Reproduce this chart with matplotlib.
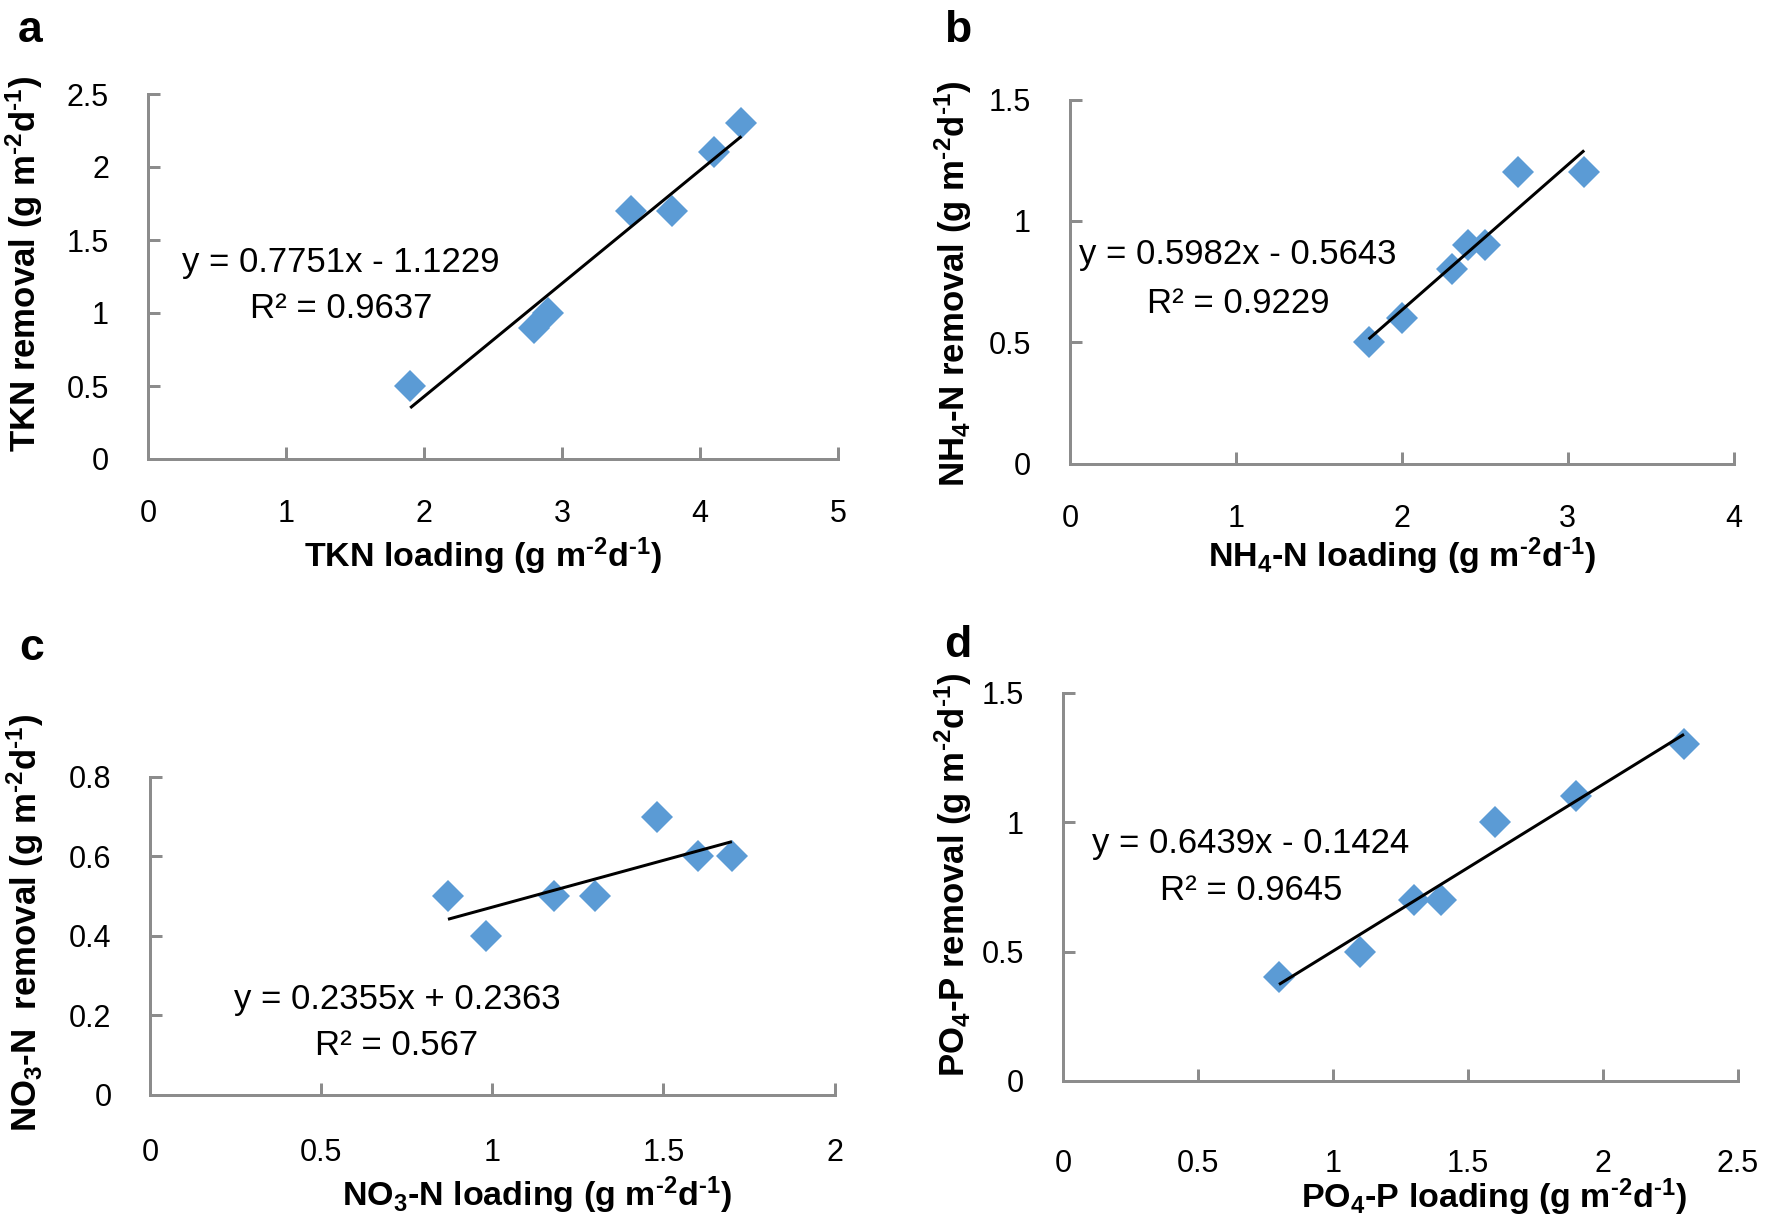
import numpy as np
import matplotlib
matplotlib.use('Agg')
import matplotlib.pyplot as plt
from matplotlib.ticker import FuncFormatter

plt.rcParams['font.family'] = ['Liberation Sans', 'DejaVu Sans']
plt.rcParams['mathtext.default'] = 'regular'

W, H = 1773, 1224

# ---------------- data ----------------
tkn_load = [1.9, 2.8, 2.9, 3.5, 3.8, 4.1, 4.3]
tkn_rem = [0.5, 0.9, 1.0, 1.7, 1.7, 2.1, 2.3]

nh4_load = [1.8, 2.0, 2.3, 2.4, 2.5, 2.7, 3.1]
nh4_rem = [0.5, 0.6, 0.8, 0.9, 0.9, 1.2, 1.2]

no3_load = [0.87, 0.98, 1.18, 1.3, 1.48, 1.6, 1.7]
no3_rem = [0.5, 0.4, 0.5, 0.5, 0.7, 0.6, 0.6]

po4_load = [0.8, 1.1, 1.3, 1.4, 1.6, 1.9, 2.3]
po4_rem = [0.4, 0.5, 0.7, 0.7, 1.0, 1.1, 1.3]

xticks_a = [0, 1, 2, 3, 4, 5]
yticks_a = [0, 0.5, 1, 1.5, 2, 2.5]
xticks_b = [0, 1, 2, 3, 4]
yticks_b = [0, 0.5, 1, 1.5]
xticks_c = [0, 0.5, 1, 1.5, 2]
yticks_c = [0, 0.2, 0.4, 0.6, 0.8]
xticks_d = [0, 0.5, 1, 1.5, 2, 2.5]
yticks_d = [0, 0.5, 1, 1.5]

eq_a = ["y = 0.7751x - 1.1229", "R² = 0.9637"]
eq_b = ["y = 0.5982x - 0.5643", "R² = 0.9229"]
eq_c = ["y = 0.2355x + 0.2363", "R² = 0.567"]
eq_d = ["y = 0.6439x - 0.1424", "R² = 0.9645"]

UNITS = "(g m$^{\u20102}$d$^{\u20101}$)"
xlab_a = "TKN loading " + UNITS
ylab_a = "TKN removal " + UNITS
xlab_b = "NH$_{4}$-N loading " + UNITS
ylab_b = "NH$_{4}$-N removal " + UNITS
xlab_c = "NO$_{3}$-N loading " + UNITS
ylab_c = "NO$_{3}$-N  removal " + UNITS
xlab_d = "PO$_{4}$-P loading " + UNITS
ylab_d = "PO$_{4}$-P removal " + UNITS

letters = ["a", "b", "c", "d"]

# ---------------- style ----------------
BLUE = '#5B9BD5'
GREY = '#8C8C8C'
PT = 72 / 100.0  # points per pixel at dpi 100

fig = plt.figure(figsize=(W / 100, H / 100), dpi=100)


def fx(px):
    return px / W


def fy(py):
    return 1 - py / H


def add_axes_px(l, t, r, b):
    return fig.add_axes([l / W, 1 - b / H, (r - l) / W, (b - t) / H])


fmt = FuncFormatter(lambda v, p: f'{v:g}')

panels = [
    dict(box=(148, 94, 838, 459), x=tkn_load, y=tkn_rem, xt=xticks_a, yt=yticks_a,
         eq=eq_a, eqx=341, eqy=(272, 318), xl=xlab_a, xlpos=(483, 556),
         yl=ylab_a, ylpos=(24, 264), let=letters[0], letpos=(30, 42), xpad=29),
    dict(box=(1070, 99.5, 1733.5, 463.6), x=nh4_load, y=nh4_rem, xt=xticks_b, yt=yticks_b,
         eq=eq_b, eqx=1238, eqy=(264, 313), xl=xlab_b, xlpos=(1402, 556),
         yl=ylab_b, ylpos=(953, 284), let=letters[1], letpos=(958, 42), xpad=29),
    dict(box=(150.4, 776.8, 834.5, 1094.5), x=no3_load, y=no3_rem, xt=xticks_c, yt=yticks_c,
         eq=eq_c, eqx=397, eqy=(1009, 1055), xl=xlab_c, xlpos=(537, 1195),
         yl=ylab_c, ylpos=(25, 923), let=letters[2], letpos=(32, 660), xpad=31),
    dict(box=(1063, 692.5, 1738, 1081), x=po4_load, y=po4_rem, xt=xticks_d, yt=yticks_d,
         eq=eq_d, eqx=1251, eqy=(853, 900), xl=xlab_d, xlpos=(1494, 1197),
         yl=ylab_d, ylpos=(953, 875), let=letters[3], letpos=(958, 657), xpad=49),
]

for P in panels:
    ax = add_axes_px(*P['box'])
    x = np.array(P['x'], dtype=float)
    y = np.array(P['y'], dtype=float)
    ax.plot(x, y, 'D', ms=15.8, mew=0, color=BLUE, clip_on=False, zorder=3)
    coef = np.polyfit(x, y, 1)
    xs = np.array([x.min(), x.max()])
    ax.plot(xs, np.polyval(coef, xs), color='black', lw=3 * PT, zorder=4,
            solid_capstyle='butt')

    ax.set_xlim(P['xt'][0], P['xt'][-1])
    ax.set_ylim(P['yt'][0], P['yt'][-1])
    ax.set_xticks(P['xt'])
    ax.set_yticks(P['yt'])
    ax.xaxis.set_major_formatter(fmt)
    ax.yaxis.set_major_formatter(fmt)
    for s in ['top', 'right']:
        ax.spines[s].set_visible(False)
    for s in ['left', 'bottom']:
        ax.spines[s].set_color(GREY)
        ax.spines[s].set_linewidth(3 * PT)
    ax.tick_params(direction='in', length=12 * PT, width=3 * PT, color=GREY,
                   labelsize=22, labelcolor='black')
    ax.tick_params(axis='x', pad=P['xpad'])
    ax.tick_params(axis='y', pad=28)
    ax.set_facecolor('none')

    # equation text
    fig.text(fx(P['eqx']), fy(P['eqy'][0]), P['eq'][0], ha='center', va='baseline',
             fontsize=25)
    fig.text(fx(P['eqx']), fy(P['eqy'][1]), P['eq'][1], ha='center', va='baseline',
             fontsize=25)

    # axis labels
    fig.text(fx(P['xlpos'][0]), fy(P['xlpos'][1]), P['xl'], ha='center', va='center',
             fontsize=24.5, fontweight='bold')
    fig.text(fx(P['ylpos'][0]), fy(P['ylpos'][1]), P['yl'], ha='center', va='center',
             rotation=90, fontsize=25, fontweight='bold')

    # panel letter
    fig.text(fx(P['letpos'][0]), fy(P['letpos'][1]), P['let'], ha='center',
             va='baseline', fontsize=32, fontweight='bold')

fig.savefig('out.png', dpi=100, facecolor='white')
